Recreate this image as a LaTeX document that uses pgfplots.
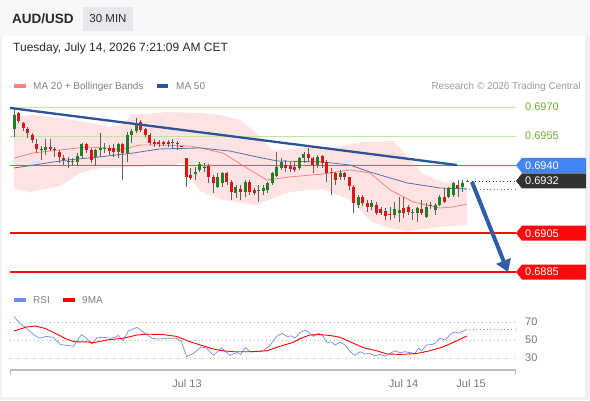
\documentclass[border=0pt]{standalone}
\usepackage{fontspec}
\setmainfont{Liberation Sans}
\usepackage{pgfplots}
\pgfplotsset{compat=1.18}
\usepackage{pgfplotstable}
\usetikzlibrary{arrows.meta}

\definecolor{cgreen}{RGB}{35,125,35}
\definecolor{cred}{RGB}{225,20,20}
\definecolor{wick}{RGB}{95,95,95}
\definecolor{band}{RGB}{255,227,227}
\definecolor{ma20}{RGB}{255,130,130}
\definecolor{ma50}{RGB}{85,110,175}
\definecolor{trend}{RGB}{45,82,152}
\definecolor{arrowc}{RGB}{46,94,164}
\definecolor{lvgreen}{RGB}{195,228,165}
\definecolor{txtgreen}{RGB}{110,175,40}
\definecolor{lvblue}{RGB}{66,133,244}
\definecolor{lvred}{RGB}{255,10,10}
\definecolor{tagdark}{RGB}{51,51,51}
\definecolor{rsiblue}{RGB}{110,140,235}
\definecolor{txtgray}{RGB}{120,120,120}
\definecolor{lgdgray}{RGB}{130,130,130}
\definecolor{gridgray}{RGB}{175,175,175}
\definecolor{axisgray}{RGB}{190,190,190}
\definecolor{bghead}{RGB}{247,247,247}
\definecolor{bgframe}{RGB}{240,241,243}
\definecolor{boxgray}{RGB}{230,232,236}
\definecolor{darktxt}{RGB}{40,40,40}

% green (rising) candles: index, open, high, low, close
\pgfplotstableread{
i o h l c
0 0.69587 0.69685 0.69546 0.69659
7 0.69479 0.69535 0.69453 0.69494
13 0.69417 0.69437 0.69401 0.69422
14 0.69417 0.69463 0.69396 0.69448
15 0.69448 0.69515 0.69437 0.69509
18 0.69443 0.69484 0.69396 0.69479
19 0.69479 0.69566 0.69443 0.69489
20 0.69484 0.69515 0.69463 0.69489
23 0.69468 0.69515 0.69437 0.69509
25 0.69463 0.69571 0.69417 0.69556
26 0.69556 0.69587 0.69515 0.69576
27 0.69576 0.69643 0.69566 0.69612
35 0.69515 0.69535 0.69489 0.69520
40 0.69355 0.69391 0.69324 0.69365
41 0.69376 0.69417 0.69365 0.69406
45 0.69288 0.69360 0.69283 0.69340
46 0.69309 0.69365 0.69288 0.69360
49 0.69257 0.69298 0.69231 0.69288
51 0.69262 0.69324 0.69237 0.69314
54 0.69267 0.69298 0.69211 0.69273
55 0.69267 0.69298 0.69247 0.69283
56 0.69273 0.69314 0.69257 0.69309
57 0.69309 0.69365 0.69298 0.69360
58 0.69345 0.69468 0.69340 0.69391
59 0.69386 0.69437 0.69376 0.69417
63 0.69386 0.69443 0.69376 0.69437
64 0.69437 0.69468 0.69412 0.69458
67 0.69401 0.69453 0.69386 0.69443
72 0.69340 0.69376 0.69324 0.69360
76 0.69195 0.69247 0.69180 0.69237
79 0.69185 0.69221 0.69170 0.69206
84 0.69144 0.69211 0.69128 0.69175
85 0.69154 0.69237 0.69108 0.69170
88 0.69154 0.69175 0.69118 0.69159
89 0.69154 0.69185 0.69108 0.69180
91 0.69134 0.69206 0.69128 0.69185
92 0.69190 0.69211 0.69175 0.69195
93 0.69170 0.69206 0.69144 0.69195
94 0.69195 0.69247 0.69190 0.69237
96 0.69237 0.69288 0.69231 0.69283
97 0.69247 0.69314 0.69237 0.69309
99 0.69288 0.69324 0.69262 0.69309
100 0.69314 0.69324 0.69314 0.69319
}\up

% red (falling) candles
\pgfplotstableread{
i o h l c
1 0.69669 0.69674 0.69618 0.69628
2 0.69618 0.69623 0.69576 0.69592
3 0.69587 0.69597 0.69540 0.69566
4 0.69556 0.69566 0.69515 0.69530
5 0.69509 0.69535 0.69463 0.69484
6 0.69484 0.69499 0.69427 0.69479
8 0.69494 0.69535 0.69473 0.69484
9 0.69484 0.69494 0.69443 0.69479
10 0.69468 0.69479 0.69412 0.69443
11 0.69437 0.69453 0.69401 0.69427
12 0.69422 0.69443 0.69386 0.69417
16 0.69509 0.69515 0.69463 0.69479
17 0.69479 0.69489 0.69412 0.69427
21 0.69489 0.69504 0.69453 0.69473
22 0.69489 0.69509 0.69443 0.69468
24 0.69509 0.69515 0.69324 0.69463
28 0.69623 0.69633 0.69571 0.69582
29 0.69587 0.69592 0.69546 0.69556
30 0.69556 0.69566 0.69504 0.69515
31 0.69520 0.69535 0.69494 0.69509
32 0.69520 0.69530 0.69494 0.69509
33 0.69520 0.69525 0.69499 0.69509
34 0.69520 0.69530 0.69494 0.69509
36 0.69515 0.69525 0.69479 0.69509
37 0.69499 0.69499 0.69494 0.69494
38 0.69437 0.69437 0.69288 0.69340
39 0.69350 0.69386 0.69324 0.69334
42 0.69391 0.69412 0.69365 0.69386
43 0.69396 0.69406 0.69309 0.69340
44 0.69340 0.69350 0.69257 0.69309
47 0.69360 0.69365 0.69298 0.69314
48 0.69314 0.69324 0.69221 0.69262
50 0.69278 0.69298 0.69221 0.69262
52 0.69314 0.69324 0.69247 0.69262
53 0.69273 0.69283 0.69247 0.69257
60 0.69401 0.69427 0.69365 0.69386
61 0.69396 0.69417 0.69365 0.69381
62 0.69391 0.69417 0.69365 0.69376
65 0.69458 0.69489 0.69417 0.69437
66 0.69437 0.69443 0.69360 0.69401
68 0.69448 0.69453 0.69386 0.69412
69 0.69417 0.69427 0.69314 0.69360
70 0.69365 0.69386 0.69247 0.69360
71 0.69360 0.69365 0.69298 0.69324
73 0.69360 0.69365 0.69324 0.69340
74 0.69340 0.69340 0.69273 0.69293
75 0.69288 0.69298 0.69154 0.69206
77 0.69237 0.69247 0.69190 0.69206
78 0.69206 0.69221 0.69159 0.69185
80 0.69195 0.69211 0.69144 0.69154
81 0.69175 0.69185 0.69144 0.69154
82 0.69164 0.69180 0.69118 0.69139
83 0.69149 0.69185 0.69118 0.69144
86 0.69180 0.69237 0.69128 0.69154
87 0.69185 0.69195 0.69144 0.69159
90 0.69175 0.69221 0.69144 0.69154
95 0.69237 0.69283 0.69206 0.69211
98 0.69298 0.69324 0.69237 0.69283
}\down

\begin{document}
\begin{tikzpicture}
\useasboundingbox (0pt,0pt) rectangle (590pt,400pt);
\fill[white] (0pt,0pt) rectangle (590pt,400pt);
\fill[bghead] (0pt,364pt) rectangle (590pt,400pt);
\fill[bgframe] (585pt,0pt) rectangle (590pt,364pt);
\fill[bgframe] (0pt,0pt) rectangle (585pt,3pt);
\fill[bgframe] (0pt,0pt) rectangle (1.5pt,364pt);

% header
\node[anchor=base west, inner sep=0pt, text=darktxt, font=\bfseries\fontsize{13.5}{15}\selectfont] at (12pt,376pt) {AUD/USD};
\fill[boxgray] (83pt,369pt) rectangle (133pt,393pt);
\node[inner sep=0pt, text=darktxt, font=\fontsize{11.5}{13}\selectfont] at (108pt,381pt) {30 MIN};
\node[anchor=base west, inner sep=0pt, text=darktxt, font=\fontsize{12}{14}\selectfont] at (13pt,348pt) {Tuesday, July 14, 2026 7:21:09 AM CET};

% legend
\fill[ma20] (14pt,312pt) rectangle (26pt,316pt);
\node[anchor=base west, inner sep=0pt, text=lgdgray, font=\fontsize{10}{12}\selectfont] at (33pt,310.4pt) {MA 20 + Bollinger Bands};
\fill[trend] (157pt,312pt) rectangle (168pt,316pt);
\node[anchor=base west, inner sep=0pt, text=lgdgray, font=\fontsize{10}{12}\selectfont] at (176pt,310.4pt) {MA 50};
\node[anchor=base east, inner sep=0pt, text=lgdgray!80, font=\fontsize{10}{12}\selectfont] at (581pt,310.4pt) {Research © 2026 Trading Central};

\fill[rsiblue] (14pt,98.5pt) rectangle (26pt,102pt);
\node[anchor=base west, inner sep=0pt, text=lgdgray, font=\fontsize{10}{12}\selectfont] at (33pt,97pt) {RSI};
\fill[red] (62.7pt,98.5pt) rectangle (75pt,102pt);
\node[anchor=base west, inner sep=0pt, text=lgdgray, font=\fontsize{10}{12}\selectfont] at (82pt,97pt) {9MA};

% ---------------- price panel ----------------
\begin{axis}[at={(10pt,115pt)}, anchor=south west, width=506pt, height=190pt,
  scale only axis, xmin=-0.883, xmax=110.817, ymin=0.687833, ymax=0.697618,
  axis lines=none, clip=false]

% Bollinger band area
\addplot[fill=band, draw=none, forget plot] coordinates {
(0,0.69643) (3.5,0.69659) (10.2,0.69643) (16.8,0.69618) (21.2,0.69597) (23.8,0.69607)
(26.0,0.69659) (33.8,0.69674) (41.1,0.69669) (45.5,0.69659) (49.9,0.69633) (52.1,0.69592)
(54.3,0.69546) (57.0,0.69479) (60.3,0.69479) (63.1,0.69489) (69.3,0.69489) (73.7,0.69504)
(76.8,0.69520) (81.2,0.69520) (83.7,0.69525) (86.1,0.69463) (90.3,0.69355) (94.0,0.69319)
(97.4,0.69298) (100,0.69283)
(100,0.69092) (94.0,0.69082) (86.8,0.69061) (83.0,0.69077) (79.0,0.69108) (74.2,0.69221)
(68.2,0.69278) (60.9,0.69262) (56.5,0.69226) (53.6,0.69195) (50.6,0.69206) (46.1,0.69221)
(41.1,0.69267) (38.9,0.69334) (37.1,0.69412) (34.9,0.69401) (27.4,0.69391) (19.0,0.69386)
(14.6,0.69360) (10.2,0.69293) (3.5,0.69262) (0,0.69278)};

% horizontal levels
\addplot[lvgreen, line width=1pt] coordinates {(-0.883,0.6970) (110.817,0.6970)};
\addplot[lvgreen, line width=1pt] coordinates {(-0.883,0.6955) (110.817,0.6955)};
\addplot[lvblue, line width=1.3pt] coordinates {(-0.883,0.6940) (110.817,0.6940)};
\addplot[lvred, line width=2pt] coordinates {(-0.883,0.6905) (110.817,0.6905)};
\addplot[lvred, line width=2pt] coordinates {(-0.883,0.6885) (110.817,0.6885)};

% MA 20
\addplot[ma20, line width=0.8pt] coordinates {
(0,0.69437) (4.2,0.69463) (10.2,0.69479) (16.1,0.69494) (20.5,0.69489) (23.4,0.69479)
(27.8,0.69504) (32.2,0.69504) (38.9,0.69499) (42.2,0.69484) (46.1,0.69463) (51.4,0.69386)
(55.8,0.69324) (60.9,0.69340) (68.2,0.69355) (74.2,0.69376) (78.6,0.69360) (83.0,0.69273)
(88.1,0.69211) (94.0,0.69180) (96.9,0.69185) (100,0.69200)};

% MA 50
\addplot[ma50, line width=0.8pt] coordinates {
(0,0.69386) (11.7,0.69427) (19.0,0.69443) (26.3,0.69463) (32.2,0.69484) (41.1,0.69489)
(47.7,0.69473) (53.6,0.69443) (58.1,0.69422) (68.2,0.69417) (74.2,0.69401) (78.6,0.69365)
(86.8,0.69309) (94.0,0.69283) (100,0.69278)};
\addplot[ma50, line width=0.8pt, dash pattern=on 1pt off 2.5pt] coordinates {(100.5,0.69278) (110.817,0.69278)};
\addplot[tagdark, line width=0.8pt, dash pattern=on 1pt off 2.5pt] coordinates {(101,0.69319) (110.817,0.69319)};

% candles: wicks
\addplot[draw=none, mark=none, error bars/.cd, y dir=minus, y explicit, error mark=none,
  error bar style={draw=wick, line width=0.8pt, solid}]
  table[x=i, y=h, y error minus expr={\thisrow{h}-\thisrow{l}}] {\up};
\addplot[draw=none, mark=none, error bars/.cd, y dir=minus, y explicit, error mark=none,
  error bar style={draw=wick, line width=0.8pt, solid}]
  table[x=i, y=h, y error minus expr={\thisrow{h}-\thisrow{l}}] {\down};
% candles: bodies
\addplot[draw=none, mark=none, error bars/.cd, y dir=minus, y explicit, error mark=none,
  error bar style={draw=cgreen, line width=3pt, solid}]
  table[x=i, y=c, y error minus expr={\thisrow{c}-\thisrow{o}}] {\up};
\addplot[draw=none, mark=none, error bars/.cd, y dir=minus, y explicit, error mark=none,
  error bar style={draw=cred, line width=3pt, solid}]
  table[x=i, y=o, y error minus expr={\thisrow{o}-\thisrow{c}}] {\down};

% trend line and projected arrow
\addplot[trend, line width=2.3pt] coordinates {(-0.883,0.69695) (97.8,0.69401)};
\addplot[arrowc, line width=4pt, -{Triangle[width=15pt,length=12pt]}] coordinates {(101.1,0.69314) (109.05,0.68850)};

% right-hand price labels
\node[anchor=west, xshift=9pt, inner sep=0pt, text=txtgreen, font=\fontsize{11}{13}\selectfont] at (axis cs:110.817,0.6970) {0.6970};
\node[anchor=west, xshift=9pt, inner sep=0pt, text=txtgreen, font=\fontsize{11}{13}\selectfont] at (axis cs:110.817,0.6955) {0.6955};
\fill[lvblue] (axis cs:110.817,0.6940) -- ++(6pt,7.5pt) -- ++(64pt,0pt) -- ++(0pt,-15pt) -- ++(-64pt,0pt) -- cycle;
\node[anchor=west, xshift=9pt, inner sep=0pt, text=white, font=\fontsize{11}{13}\selectfont] at (axis cs:110.817,0.6940) {0.6940};
\fill[tagdark] (axis cs:110.817,0.69319) -- ++(6pt,7.5pt) -- ++(64pt,0pt) -- ++(0pt,-15pt) -- ++(-64pt,0pt) -- cycle;
\node[anchor=west, xshift=9pt, inner sep=0pt, text=white, font=\fontsize{11}{13}\selectfont] at (axis cs:110.817,0.69319) {0.6932};
\fill[lvred] (axis cs:110.817,0.6905) -- ++(6pt,7.5pt) -- ++(64pt,0pt) -- ++(0pt,-15pt) -- ++(-64pt,0pt) -- cycle;
\node[anchor=west, xshift=9pt, inner sep=0pt, text=white, font=\fontsize{11}{13}\selectfont] at (axis cs:110.817,0.6905) {0.6905};
\fill[lvred] (axis cs:110.817,0.6885) -- ++(6pt,7.5pt) -- ++(64pt,0pt) -- ++(0pt,-15pt) -- ++(-64pt,0pt) -- cycle;
\node[anchor=west, xshift=9pt, inner sep=0pt, text=white, font=\fontsize{11}{13}\selectfont] at (axis cs:110.817,0.6885) {0.6885};
\end{axis}

% ---------------- RSI panel ----------------
\begin{axis}[at={(10pt,30pt)}, anchor=south west, width=506pt, height=60pt,
  scale only axis, xmin=-0.883, xmax=110.817, ymin=16.667, ymax=83.333,
  axis lines=none, clip=false]
\addplot[gridgray, line width=0.8pt, dash pattern=on 1pt off 3pt] coordinates {(-0.883,70) (110.817,70)};
\addplot[gridgray, line width=0.8pt, dash pattern=on 1pt off 3pt] coordinates {(-0.883,50) (110.817,50)};
\addplot[gridgray, line width=0.8pt, dash pattern=on 1pt off 3pt] coordinates {(-0.883,30) (110.817,30)};

% RSI
\addplot[rsiblue, line width=0.7pt] coordinates {
(0,76) (1.3,68.5) (2.8,63) (4.3,56) (5.7,52) (7.2,54) (8.7,53) (10.2,45) (11.6,44) (13.1,43)
(14.9,56) (16.0,52) (17.2,45.5) (18.3,52.5) (19.7,53) (21.2,52) (22.3,53) (23.0,55) (24.1,49)
(25.2,60) (27.1,64) (28.5,59) (30.4,52) (32.2,51) (33.7,52) (35.9,52) (37.0,48) (38.1,31.5)
(39.6,35) (41.4,42.5) (42.5,41) (44.0,33) (45.8,41) (47.7,33) (49.2,36) (50.0,34) (51.1,41.5)
(52.1,37) (53.9,37) (55.0,38) (56.5,44) (58.0,54) (59.1,57.5) (60.2,54) (61.3,54.5) (62.0,52)
(63.1,58) (64.2,61) (65.0,59) (66.1,54) (67.2,57.5) (68.3,54) (69.0,47.5) (70.1,47.5) (70.9,44.5)
(72.0,47.5) (73.1,44.5) (74.2,37) (75.3,33) (76.4,37) (77.5,34.5) (78.6,35) (79.7,32.5) (80.8,34)
(81.9,32) (83.0,35) (84.1,38) (85.2,36) (86.3,37) (87.4,36) (88.5,35) (89.3,41) (90.0,38)
(91.1,44.5) (92.2,45) (92.9,46) (94.0,52) (95.1,50) (96.2,55.5) (97.2,59) (98.1,57.5) (99.2,60)
(100,62)};
\addplot[rsiblue, line width=0.8pt, dash pattern=on 1pt off 2.5pt] coordinates {(100.5,62) (110.817,62)};

% 9MA
\addplot[red, line width=0.9pt] coordinates {
(0,60) (2.8,64.5) (4.6,65.5) (6.8,63) (9.1,57.5) (11.6,51) (13.5,48) (16.0,48) (17.5,47)
(20.5,50) (24.1,52) (27.1,55.5) (29.3,56.5) (33.0,56) (35.9,54) (38.9,48) (41.1,44.5) (44.0,40)
(46.2,38) (48.4,37) (52.1,37) (55.8,38) (58.7,43) (61.7,47.5) (63.1,51.5) (65.3,55.5) (67.5,56)
(69.8,55) (72.0,53) (74.2,48) (77.1,41.5) (80.1,38) (82.3,34.5) (85.2,34) (88.9,35) (91.8,38)
(94.8,42.5) (97.7,49) (100,54.5)};

\node[anchor=west, xshift=9pt, inner sep=0pt, text=txtgray, font=\fontsize{11}{13}\selectfont] at (axis cs:110.817,70) {70};
\node[anchor=west, xshift=9pt, inner sep=0pt, text=txtgray, font=\fontsize{11}{13}\selectfont] at (axis cs:110.817,50) {50};
\node[anchor=west, xshift=9pt, inner sep=0pt, text=txtgray, font=\fontsize{11}{13}\selectfont] at (axis cs:110.817,30) {30};

% time axis
\draw[axisgray, line width=2pt] (axis cs:-0.883,16.667) -- (axis cs:110.817,16.667);
\draw[axisgray, line width=1.5pt] (axis cs:-0.883,16.667) ++(0.75pt,0pt) -- ++(0pt,-5pt);
\draw[axisgray, line width=1.5pt] (axis cs:110.817,16.667) ++(-0.75pt,0pt) -- ++(0pt,-5pt);
\node[anchor=base, yshift=-17.3pt, inner sep=0pt, text=txtgray, font=\fontsize{11}{13}\selectfont] at (axis cs:38.2,16.667) {Jul 13};
\node[anchor=base, yshift=-17.3pt, inner sep=0pt, text=txtgray, font=\fontsize{11}{13}\selectfont] at (axis cs:86.0,16.667) {Jul 14};
\node[anchor=base, yshift=-17.3pt, inner sep=0pt, text=txtgray, font=\fontsize{11}{13}\selectfont] at (axis cs:100.9,16.667) {Jul 15};
\end{axis}
\end{tikzpicture}
\end{document}
